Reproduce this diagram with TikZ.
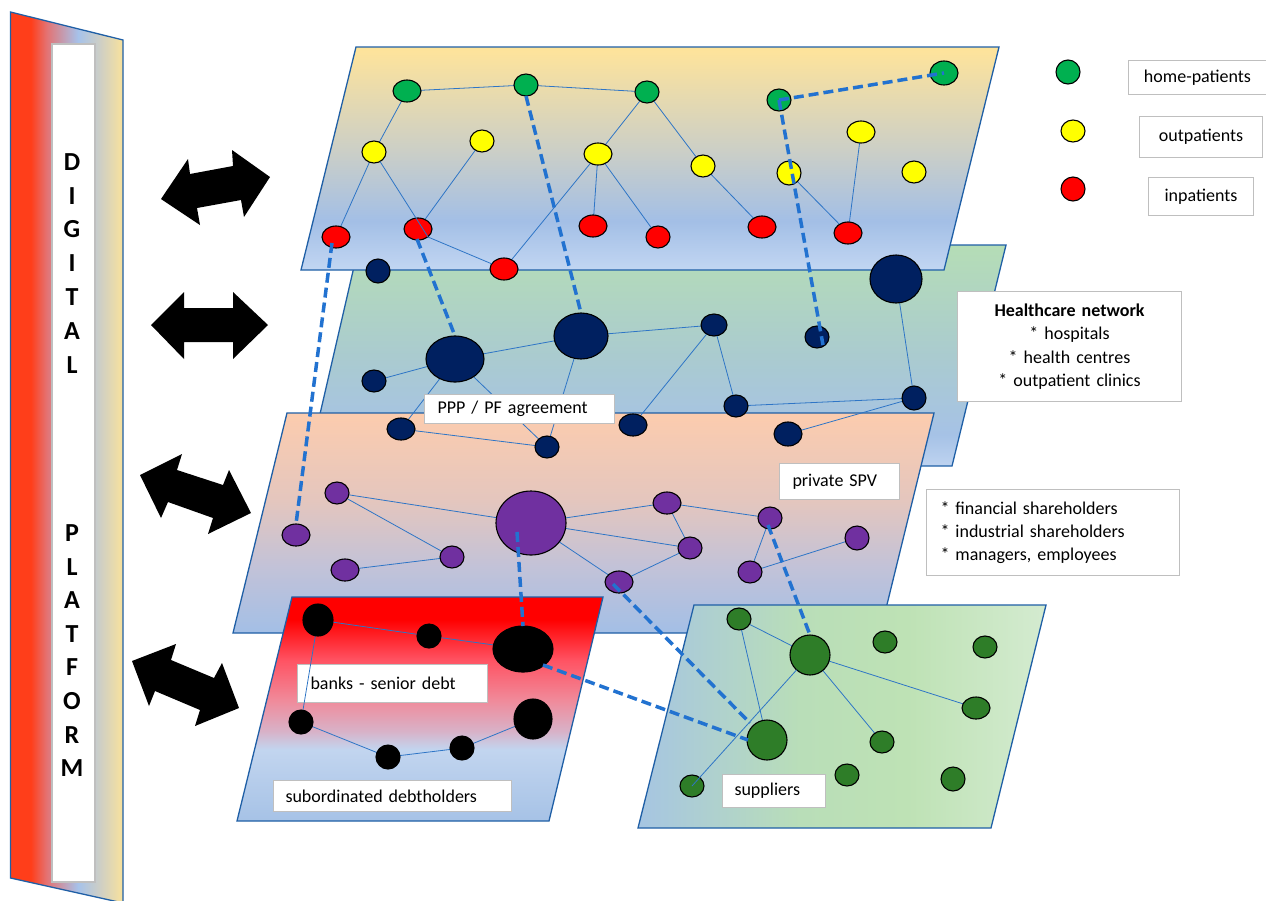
\documentclass[tikz,border=0pt]{standalone}
\usepackage{fontspec}
\setmainfont{Carlito}
\usetikzlibrary{shapes.geometric,calc}
\definecolor{cHome}{HTML}{00B050}
\definecolor{cOut}{HTML}{FFFF00}
\definecolor{cIn}{HTML}{FF0000}
\definecolor{cNavy}{HTML}{002060}
\definecolor{cPurp}{HTML}{7030A0}
\definecolor{cSup}{HTML}{2E7D28}
\definecolor{cLine}{HTML}{2E75C6}
\definecolor{cDash}{HTML}{2272D0}
\definecolor{cFrame}{HTML}{1F5FA6}
\definecolor{cBox}{HTML}{BFBFBF}
\definecolor{lA}{HTML}{FFE49A}\definecolor{lB}{HTML}{CCCFC6}\definecolor{lC}{HTML}{A3BFE6}\definecolor{lD}{HTML}{C2D6F2}
\definecolor{mA}{HTML}{B5DDB6}\definecolor{mB}{HTML}{AACBCF}\definecolor{mC}{HTML}{A6C2E6}\definecolor{mD}{HTML}{BED3F0}
\definecolor{pA}{HTML}{FCCCAE}\definecolor{pB}{HTML}{E4C6BE}\definecolor{pC}{HTML}{C2C2D8}\definecolor{pD}{HTML}{A3BFE6}
\definecolor{rA}{HTML}{FF0000}\definecolor{rB}{HTML}{FF5262}\definecolor{rC}{HTML}{F08A9A}\definecolor{rD}{HTML}{D8B2C8}\definecolor{rE}{HTML}{C2D5EF}\definecolor{rF}{HTML}{A6C2E6}
\definecolor{sA}{HTML}{A6C5E2}\definecolor{sB}{HTML}{B9DEB8}\definecolor{sC}{HTML}{BEE2B5}\definecolor{sD}{HTML}{D4EBD0}
\definecolor{fA}{HTML}{FF3E1A}\definecolor{fB}{HTML}{E47272}\definecolor{fC}{HTML}{A6C2EA}\definecolor{fD}{HTML}{CFCFC4}\definecolor{fE}{HTML}{F9E29C}
\pgfdeclareverticalshading{shOne}{100bp}{color(0bp)=(lD); color(25bp)=(lD); color(36bp)=(lC); color(52bp)=(lB); color(75bp)=(lA); color(100bp)=(lA)}
\pgfdeclareverticalshading{shTwo}{100bp}{color(0bp)=(mD); color(25bp)=(mD); color(32bp)=(mC); color(50bp)=(mB); color(75bp)=(mA); color(100bp)=(mA)}
\pgfdeclareverticalshading{shThree}{100bp}{color(0bp)=(pD); color(25bp)=(pD); color(40bp)=(pC); color(55bp)=(pB); color(75bp)=(pA); color(100bp)=(pA)}
\pgfdeclareverticalshading{shFour}{100bp}{color(0bp)=(rF); color(25bp)=(rF); color(41bp)=(rE); color(45bp)=(rD); color(52bp)=(rC); color(61bp)=(rB); color(70bp)=(rA); color(100bp)=(rA)}
\pgfdeclarehorizontalshading{shFive}{100bp}{color(0bp)=(sA); color(25bp)=(sA); color(45bp)=(sB); color(58bp)=(sC); color(75bp)=(sD); color(100bp)=(sD)}
\pgfdeclarehorizontalshading{shPlat}{100bp}{color(0bp)=(fA); color(25bp)=(fA); color(34bp)=(fA); color(41bp)=(fB); color(55bp)=(fC); color(65bp)=(fD); color(75bp)=(fE); color(100bp)=(fE)}
\pgfdeclarelayer{back}
\pgfdeclarelayer{boxlow}
\pgfdeclarelayer{edges}
\pgfdeclarelayer{front}
\pgfsetlayers{back,boxlow,edges,main,front}
\tikzset{
  plane/.style={draw=cFrame, line width=1.3pt, shade},
  nd/.style={ellipse, draw=black, line width=1.1pt, inner sep=0pt, outer sep=0pt},
  sz/.style 2 args={minimum width=#1pt, minimum height=#2pt},
  hp/.style={nd, fill=cHome},
  op/.style={nd, fill=cOut},
  ip/.style={nd, fill=cIn},
  nv/.style={nd, fill=cNavy},
  pu/.style={nd, fill=cPurp},
  bk/.style={nd, fill=black},
  sg/.style={nd, fill=cSup},
  edge/.style={draw=cLine, line width=0.8pt},
  dsh/.style={draw=cDash, line width=3.5pt, dash pattern=on 10pt off 5pt},
  lbox/.style={draw=cBox, fill=white, line width=1pt, font=\fontsize{18}{23.3}\selectfont, inner ysep=0pt, anchor=north west, text=black},
  plet/.style={font=\bfseries\fontsize{26}{26}\selectfont, inner sep=0pt, text=black},
  dblarrow/.style={fill=black}
}
\begin{document}
\begin{tikzpicture}[x=1pt,y=-1pt]
\useasboundingbox (0,0) rectangle (1266,900);
\begin{pgfonlayer}{back}
  % digital platform
  \path[plane, shading=shPlat] (10.5,12) -- (123,40) -- (123,903) -- (10.5,878) -- cycle;
  \path[draw=cBox, fill=white, line width=1.5pt] (52,44) rectangle (95,882);
  % planes
  \path[plane, shading=shTwo] (359,245) -- (1006,245) -- (952,466) -- (308,466) -- cycle;
  \path[plane, shading=shOne] (356,47) -- (999,47) -- (944,270) -- (301,270) -- cycle;
  \path[plane, shading=shThree] (287,413) -- (934,413) -- (880,633) -- (233,633) -- cycle;
  \path[plane, shading=shFour] (292,597) -- (603,597) -- (549,821) -- (237,821) -- cycle;
  \path[plane, shading=shFive] (694,605) -- (1046,605) -- (991,828) -- (638,828) -- cycle;
  % double arrows
  \path[dblarrow] (161,199) -- (188,159) -- (190,174) -- (233,166) -- (232,150) -- (270,177) -- (244,217) -- (241,200) -- (197,208) -- (200,225) -- cycle;
  \path[dblarrow] (151,325) -- (184,292) -- (184,308) -- (233,308) -- (233,292) -- (268,325) -- (233,359) -- (233,342) -- (184,342) -- (184,359) -- cycle;
  \path[dblarrow] (140,475) -- (182,454) -- (177,470) -- (223,485) -- (229,470) -- (251,513) -- (208,534) -- (213,518) -- (168,502) -- (161,518) -- cycle;
  \path[dblarrow] (132,661) -- (176,644) -- (171,660) -- (214,678) -- (222,663) -- (239,708) -- (195,726) -- (200,710) -- (155,691) -- (149,706) -- cycle;
\end{pgfonlayer}
% platform letters
\foreach \l [count=\i] in {D,I,G,I,T,A,L} \node[plet] (dg\i) at (72,{128+33.8*\i}) {\l};
\foreach \l [count=\i] in {P,L,A,T,F,O,R,M} \node[plet] (pf\i) at (72,{499.4+33.6*\i}) {\l};
% layer 1 nodes
\node[hp, sz={28}{22}] (G1) at (407,91) {};
\node[hp, sz={24}{22}] (G2) at (526,85) {};
\node[hp, sz={24}{22}] (G3) at (647,92) {};
\node[hp, sz={24}{22}] (G4) at (779,100) {};
\node[hp, sz={28}{24}] (G5) at (944,73) {};
\node[op, sz={24}{22}] (Y1) at (374,152) {};
\node[op, sz={24}{22}] (Y2) at (482,141) {};
\node[op, sz={28}{22}] (Y3) at (598,154) {};
\node[op, sz={24}{22}] (Y4) at (703,166) {};
\node[op, sz={28}{22}] (Y5) at (861,132) {};
\node[op, sz={24}{24}] (Y6) at (789,173) {};
\node[op, sz={24}{22}] (Y7) at (914,172) {};
\node[ip, sz={28}{22}] (R1) at (336,237) {};
\node[ip, sz={28}{22}] (R2) at (418,229) {};
\node[ip, sz={28}{22}] (R3) at (504,269) {};
\node[ip, sz={28}{22}] (R4) at (593,226) {};
\node[ip, sz={24}{22}] (R5) at (658,237) {};
\node[ip, sz={28}{22}] (R6) at (762,227) {};
\node[ip, sz={28}{22}] (R7) at (848,233) {};
\coordinate (R2x) at (428,237);
% legend
\node[hp, sz={24}{24}] (LG) at (1068,72) {};
\node[op, sz={24}{22}] (LY) at (1073,131) {};
\node[ip, sz={24}{24}] (LR) at (1073,189) {};
% layer 2 nodes
\node[nv, sz={24}{24}] (N1) at (378,271) {};
\node[nv, sz={58}{46}] (N2) at (455,359) {};
\node[nv, sz={54}{46}] (N3) at (581,336) {};
\node[nv, sz={24}{22}] (N4) at (374,381) {};
\node[nv, sz={26}{22}] (N5) at (714,325) {};
\node[nv, sz={28}{22}] (N6) at (401,429) {};
\node[nv, sz={24}{22}] (N7) at (547,447) {};
\node[nv, sz={28}{22}] (N8) at (633,425) {};
\node[nv, sz={52}{48}] (N9) at (896,279) {};
\node[nv, sz={24}{22}] (N11) at (817,337) {};
\node[nv, sz={24}{22}] (N12) at (736,406) {};
\node[nv, sz={24}{24}] (N13) at (914,398) {};
\node[nv, sz={28}{24}] (N14) at (788,434) {};
% layer 3 nodes
\node[pu, sz={28}{22}] (P1) at (296,535) {};
\node[pu, sz={24}{22}] (P2) at (337,493) {};
\node[pu, sz={28}{22}] (P3) at (345,570) {};
\node[pu, sz={24}{22}] (P4) at (452,557) {};
\node[pu, sz={70}{64}] (P5) at (531,523) {};
\node[pu, sz={28}{22}] (P6) at (667,503) {};
\node[pu, sz={24}{22}] (P7) at (690,548) {};
\node[pu, sz={28}{22}] (P8) at (619,582) {};
\node[pu, sz={24}{22}] (P9) at (770,518) {};
\node[pu, sz={24}{24}] (P11) at (857,538) {};
\node[pu, sz={24}{22}] (P12) at (750,572) {};
% layer 4 nodes
\node[bk, sz={30}{32}] (B1) at (318,620) {};
\node[bk, sz={24}{24}] (B2) at (429,636) {};
\node[bk, sz={60}{46}] (B3) at (523,649) {};
\node[bk, sz={24}{24}] (B4) at (301,722) {};
\node[bk, sz={24}{24}] (B5) at (388,757) {};
\node[bk, sz={24}{24}] (B6) at (462,748) {};
\node[bk, sz={38}{40}] (B7) at (533,719) {};
% layer 5 nodes
\node[sg, sz={24}{22}] (S1) at (739,619) {};
\node[sg, sz={40}{40}] (S2) at (810,655) {};
\node[sg, sz={24}{22}] (S3) at (885,642) {};
\node[sg, sz={24}{22}] (S4) at (985,647) {};
\node[sg, sz={28}{22}] (S5) at (976,708) {};
\node[sg, sz={40}{40}] (S6) at (767,740) {};
\node[sg, sz={24}{22}] (S7) at (882,742) {};
\node[sg, sz={24}{22}] (S8) at (692,786) {};
\node[sg, sz={24}{22}] (S9) at (847,775) {};
\node[sg, sz={24}{24}] (S10) at (953,779) {};
% thin edges
\begin{pgfonlayer}{edges}
  \foreach \a/\b in {G1/G2, G2/G3, G1/Y1, Y1/R1, Y2/R2, G3/Y3, G3/Y4, Y3/R3, Y3/R4, Y3/R5, Y4/R6, Y6/R7, Y5/R7,
                     N4/N2, N2/N3, N2/N6, N2/N7, N3/N7, N3/N5, N5/N8, N6/N7, N5/N12, N12/N13, N9/N13, N13/N14,
                     P2/P5, P2/P4, P3/P4, P5/P6, P5/P7, P5/P8, P6/P7, P8/P7, P6/P9, P9/P12, P12/P11,
                     B1/B2, B2/B3, B1/B4, B4/B5, B5/B6, B6/B7,
                     S1/S2, S1/S6, S2/S5, S2/S7}
    \draw[edge] (\a) -- (\b);
\end{pgfonlayer}
\draw[edge] (Y1) -- (R2x) -- (R3);
% boxes below some edges
\begin{pgfonlayer}{boxlow}
  \node[lbox, minimum width=190pt, minimum height=38pt, text width=164pt, inner xsep=13pt, align=left] (banks) at (297,664) {banks - senior debt};
\end{pgfonlayer}
\begin{pgfonlayer}{front}
  \draw[edge] (S2) -- (S8.center);
  % dashed links
  \draw[dsh] (G4.center) -- (G5.center);
  \draw[dsh] (G4.center) -- ([shift={(6,8)}]N11.center);
  \draw[dsh] (G2.south) -- (N3.north);
  \draw[dsh] ([shift={(-1,10)}]R2.center) -- (N2.north);
  \draw[dsh] ([shift={(-4,6)}]R1.center) -- (P1.north);
  \draw[dsh] ([shift={(-14,9)}]P5.center) -- (B3.north);
  \draw[dsh] ([shift={(-6,2)}]P8.center) -- ([shift={(-17,-17)}]S6.center);
  \draw[dsh] ([shift={(20,16)}]B3.center) -- ([shift={(-19,0)}]S6.center);
  \draw[dsh] ([shift={(-2,7)}]P9.center) -- (S2.north);
  % labels
  \node[lbox, minimum width=190pt, minimum height=29pt, text width=164pt, inner xsep=13pt, align=left] (ppp) at (424,394) {PPP / PF agreement};
  \node[lbox, minimum width=224pt, minimum height=110pt, text width=200pt, inner xsep=12pt, align=center] (hcn) at (957,291) {\textbf{Healthcare network}\\\relax* hospitals\\\relax* health centres\\\relax* outpatient clinics};
  \node[lbox, minimum width=253pt, minimum height=86pt, text width=225pt, inner xsep=14pt, align=left] (shh) at (926,489) {* financial shareholders\\\relax* industrial shareholders\\\relax* managers, employees};
  \node[lbox, minimum width=120pt, minimum height=36pt, text width=94pt, inner xsep=13pt, align=left] (spv) at (779,463) {private SPV};
  \node[lbox, minimum width=238pt, minimum height=31pt, text width=214pt, inner xsep=12pt, align=left] (sub) at (273,780) {subordinated debtholders};
  \node[lbox, minimum width=103pt, minimum height=33pt, text width=79pt, inner xsep=12pt, align=left] (sup) at (722,774) {suppliers};
  \node[lbox, minimum width=138pt, minimum height=34pt, text width=130pt, inner xsep=4pt, align=center] (lhp) at (1128,60) {home-patients};
  \node[lbox, minimum width=123pt, minimum height=41pt, text width=115pt, inner xsep=4pt, align=center] (lop) at (1139,116) {outpatients};
  \node[lbox, minimum width=105pt, minimum height=38pt, text width=97pt, inner xsep=4pt, align=center] (lip) at (1148,177) {inpatients};
\end{pgfonlayer}
\end{tikzpicture}
\end{document}
